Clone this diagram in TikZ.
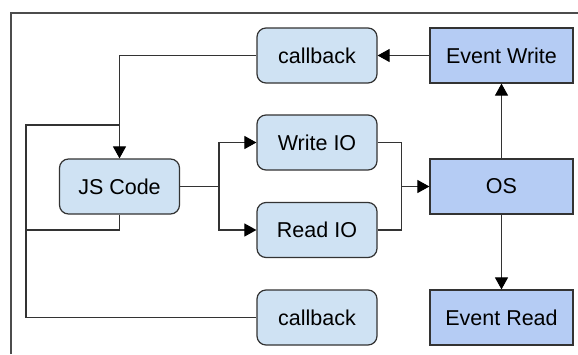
\documentclass[tikz,border=0pt]{standalone}
\usepackage{fontspec}
\setmainfont{Liberation Sans}
\usetikzlibrary{arrows.meta}
\definecolor{lightfill}{HTML}{CFE2F3}
\definecolor{darkfill}{HTML}{B5CCF4}
\definecolor{edge}{HTML}{333333}
\begin{document}
\begin{tikzpicture}[x=1pt,y=-1pt,
  roundbox/.style={draw=edge,line width=1.2pt,fill=lightfill,rounded corners=9pt,minimum width=120pt,minimum height=55pt,inner sep=0pt,font=\fontsize{21.5}{24}\selectfont},
  sqbox/.style={draw=edge,line width=1.2pt,fill=darkfill,minimum width=143pt,minimum height=55pt,inner sep=0pt,font=\fontsize{21.5}{24}\selectfont},
  conn/.style={draw=edge,line width=1.1pt},
  arr/.style={conn,-{Triangle[length=12pt,width=13pt,color=black]}},
  frameline/.style={draw=black!70,line width=1.4pt}]
\useasboundingbox (0,0) rectangle (578,354);
\coordinate (ftl) at (11,13);
\coordinate (ftr) at (578,13);
\coordinate (fbl) at (11,354);
\draw[frameline] (fbl) -- (ftl) -- (ftr);

\node[roundbox] (cbtop) at (317,55.5) {callback};
\node[sqbox] (ew) at (501.5,55.5) {Event Write};
\node[roundbox] (js) at (119.5,186.5) {JS Code};
\node[roundbox] (wio) at (317,142.5) {Write IO};
\node[roundbox] (rio) at (317,230) {Read IO};
\node[sqbox] (os) at (501.5,186.5) {OS};
\node[roundbox] (cbbot) at (317,317.5) {callback};
\node[sqbox] (er) at (501.5,317.5) {Event Read};

\coordinate (jn) at (119,125);
\coordinate (ll) at (26,125);
\coordinate (lb) at (26,317.5);
\coordinate (jb) at (26,230);
\coordinate (split) at (219,186.5);
\coordinate (merge) at (401.5,186.5);

\draw[arr] (ew) -- (cbtop);
\draw[arr] (cbtop.west) -| (js.north);
\draw[conn] (cbbot.west) -- (lb) -- (ll) -- (jn);
\draw[conn] (js.south) |- (jb);
\draw[conn] (js.east) -- (split);
\draw[arr] (split) |- (wio.west);
\draw[arr] (split) |- (rio.west);
\draw[conn] (wio.east) -| (merge);
\draw[conn] (rio.east) -| (merge);
\draw[arr] (merge) -- (os.west);
\draw[arr] (os.north) -- (ew.south);
\draw[arr] (os.south) -- (er.north);
\end{tikzpicture}
\end{document}
